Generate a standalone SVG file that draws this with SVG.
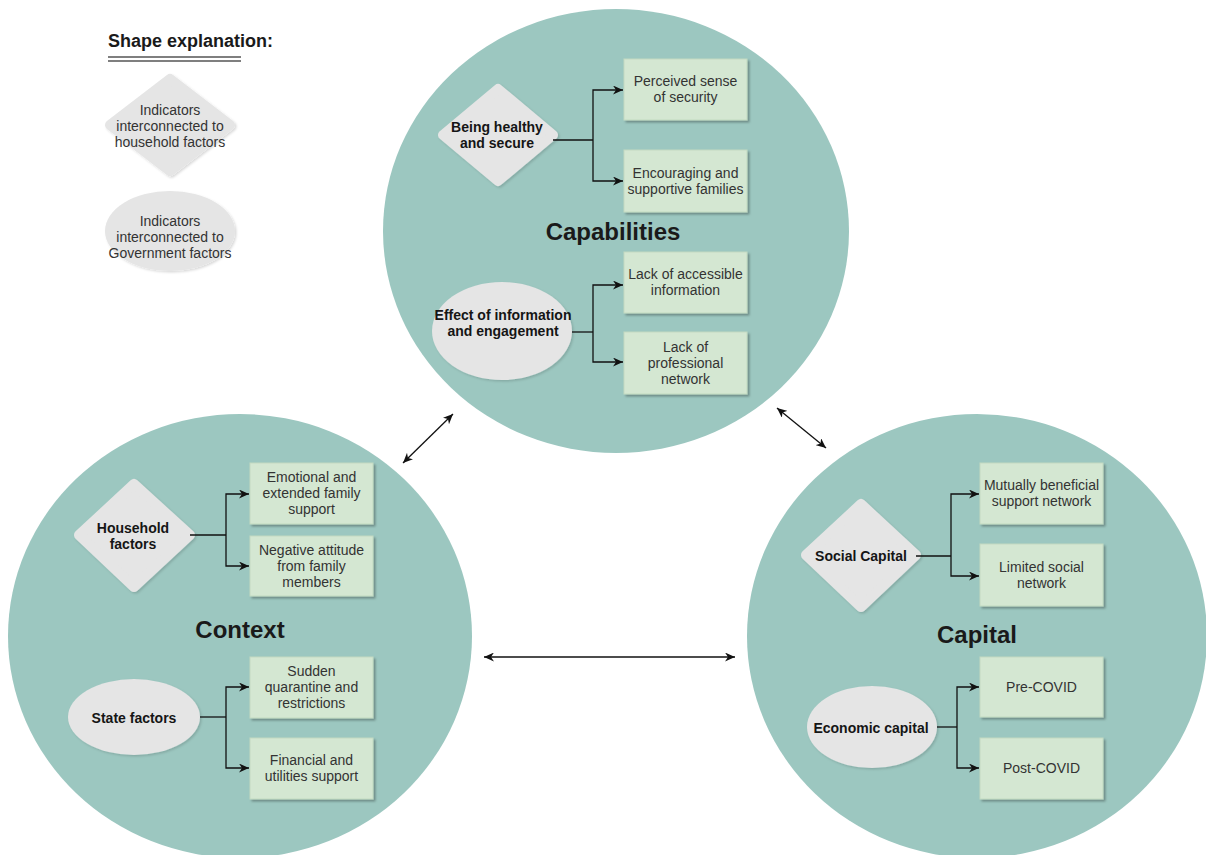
<svg xmlns="http://www.w3.org/2000/svg" width="1206" height="855" viewBox="0 0 1206 855">
<style>
.circle{fill:#9CC7C0}
.box{fill:#D4E7D2;stroke:#C3DAC1;stroke-width:1;filter:url(#sh)}
.gray{fill:#E5E5E5;filter:url(#sh2)}
.dia{fill:#E5E5E5;stroke:#E5E5E5;stroke-width:10;stroke-linejoin:round;filter:url(#sh2)}
.bt{font-family:"Liberation Sans",Arial,sans-serif;font-size:14px;fill:#333;text-anchor:middle}
.lb{font-family:"Liberation Sans",Arial,sans-serif;font-size:14px;font-weight:bold;fill:#151515;text-anchor:middle}
.ttl{font-family:"Liberation Sans",Arial,sans-serif;font-size:24px;font-weight:bold;fill:#1a1a1a;text-anchor:middle}
.con{fill:none;stroke:#111;stroke-width:1.3}
.arr{marker-end:url(#ah)}
.dbl{marker-start:url(#ah);marker-end:url(#ah)}
</style>
<defs>
<marker id="ah" markerUnits="userSpaceOnUse" markerWidth="10" markerHeight="9" refX="10" refY="4.5" orient="auto-start-reverse" viewBox="0 0 10 9">
<path d="M0,0 L10,4.5 L0,9 L3,4.5 z" fill="#111"/>
</marker>
<filter id="sh" x="-10%" y="-10%" width="130%" height="130%">
<feDropShadow dx="2" dy="2" stdDeviation="0.8" flood-color="#000" flood-opacity="0.3"/>
</filter>
<filter id="sh2" x="-10%" y="-10%" width="130%" height="130%">
<feDropShadow dx="1.5" dy="1.5" stdDeviation="1" flood-color="#000" flood-opacity="0.15"/>
</filter>
</defs>
<rect width="1206" height="855" fill="#fff"/>

<g id="legend">
<text x="108" y="47" style="font-family:'Liberation Sans',Arial,sans-serif;font-size:18px;font-weight:bold;fill:#1a1a1a">Shape explanation:</text>
<line x1="108" y1="57" x2="241" y2="57" stroke="#555" stroke-width="1.5"/>
<line x1="108" y1="61" x2="241" y2="61" stroke="#555" stroke-width="1.5"/>
<polygon class="dia" points="170,79 230,125 170,171 110,125"/>
<text class="bt" x="170" y="115">Indicators</text>
<text class="bt" x="170" y="131">interconnected to</text>
<text class="bt" x="170" y="147">household factors</text>
<ellipse class="gray" cx="170" cy="231" rx="65" ry="40"/>
<text class="bt" x="170" y="226">Indicators</text>
<text class="bt" x="170" y="242">interconnected to</text>
<text class="bt" x="170" y="258">Government factors</text>
</g>

<g id="capabilities">
<ellipse class="circle" cx="616" cy="231" rx="233" ry="222"/>
<text class="ttl" x="613" y="240">Capabilities</text>
</g>
<g id="context">
<ellipse class="circle" cx="240" cy="636" rx="232" ry="222"/>
<text class="ttl" x="240" y="638">Context</text>
</g>
<g id="capital">
<ellipse class="circle" cx="977" cy="636" rx="230" ry="222"/>
<text class="ttl" x="977" y="643">Capital</text>
</g>

<g id="being-healthy">
<polygon class="dia" points="498,89 553,135 498,181 443,135"/>
<text class="lb" x="497" y="132">Being healthy</text>
<text class="lb" x="497" y="148">and secure</text>
</g>
<g id="effect-info">
<ellipse class="gray" cx="502" cy="331" rx="70" ry="49"/>
<text class="lb" x="503" y="320">Effect of information</text>
<text class="lb" x="503" y="336">and engagement</text>
</g>
<g id="household">
<polygon class="dia" points="134,484 190,535 134,587 79,535"/>
<text class="lb" x="133" y="533">Household</text>
<text class="lb" x="133" y="549">factors</text>
</g>
<g id="state">
<ellipse class="gray" cx="134" cy="717" rx="66" ry="38"/>
<text class="lb" x="134" y="723">State factors</text>
</g>
<g id="social">
<polygon class="dia" points="861,504 916,555 861,607 806,555"/>
<text class="lb" x="861" y="561">Social Capital</text>
</g>
<g id="economic">
<ellipse class="gray" cx="872" cy="727" rx="65" ry="41"/>
<text class="lb" x="871" y="733">Economic capital</text>
</g>

<g id="perceived"><rect class="box" x="624" y="59" width="123" height="61"/>
<text class="bt" x="685.5" y="86">Perceived sense</text><text class="bt" x="685.5" y="102">of security</text></g>
<g id="encouraging"><rect class="box" x="624" y="150" width="123" height="62"/>
<text class="bt" x="685.5" y="178">Encouraging and</text><text class="bt" x="685.5" y="194">supportive families</text></g>
<g id="lack-info"><rect class="box" x="624" y="252" width="123" height="61"/>
<text class="bt" x="685.5" y="279">Lack of accessible</text><text class="bt" x="685.5" y="295">information</text></g>
<g id="lack-network"><rect class="box" x="624" y="332" width="123" height="62"/>
<text class="bt" x="685.5" y="352">Lack of</text><text class="bt" x="685.5" y="368">professional</text><text class="bt" x="685.5" y="384">network</text></g>

<g id="emotional"><rect class="box" x="250" y="463" width="123" height="61"/>
<text class="bt" x="311.5" y="482">Emotional and</text><text class="bt" x="311.5" y="498">extended family</text><text class="bt" x="311.5" y="514">support</text></g>
<g id="negative"><rect class="box" x="250" y="536" width="123" height="60"/>
<text class="bt" x="311.5" y="555">Negative attitude</text><text class="bt" x="311.5" y="571">from family</text><text class="bt" x="311.5" y="587">members</text></g>
<g id="sudden"><rect class="box" x="250" y="657" width="123" height="61"/>
<text class="bt" x="311.5" y="676">Sudden</text><text class="bt" x="311.5" y="692">quarantine and</text><text class="bt" x="311.5" y="708">restrictions</text></g>
<g id="financial"><rect class="box" x="250" y="738" width="123" height="61"/>
<text class="bt" x="311.5" y="765">Financial and</text><text class="bt" x="311.5" y="781">utilities support</text></g>

<g id="mutually"><rect class="box" x="980" y="463" width="123" height="61"/>
<text class="bt" x="1041.5" y="490">Mutually beneficial</text><text class="bt" x="1041.5" y="506">support network</text></g>
<g id="limited"><rect class="box" x="980" y="544" width="123" height="62"/>
<text class="bt" x="1041.5" y="572">Limited social</text><text class="bt" x="1041.5" y="588">network</text></g>
<g id="pre-covid"><rect class="box" x="980" y="657" width="123" height="60"/>
<text class="bt" x="1041.5" y="692">Pre-COVID</text></g>
<g id="post-covid"><rect class="box" x="980" y="738" width="123" height="61"/>
<text class="bt" x="1041.5" y="773">Post-COVID</text></g>

<g id="connectors">
<path class="con" d="M553 140 H593"/>
<path class="con arr" d="M593 140 V90 H623"/>
<path class="con arr" d="M593 140 V181 H623"/>
<path class="con" d="M572 332 H593"/>
<path class="con arr" d="M593 332 V285 H623"/>
<path class="con arr" d="M593 332 V362 H623"/>
<path class="con" d="M190 535 H226"/>
<path class="con arr" d="M226 535 V494 H249"/>
<path class="con arr" d="M226 535 V566 H249"/>
<path class="con" d="M200 717 H226"/>
<path class="con arr" d="M226 717 V687 H249"/>
<path class="con arr" d="M226 717 V768 H249"/>
<path class="con" d="M916 556 H951"/>
<path class="con arr" d="M951 556 V494 H979"/>
<path class="con arr" d="M951 556 V576 H979"/>
<path class="con" d="M937 727 H957"/>
<path class="con arr" d="M957 727 V687 H979"/>
<path class="con arr" d="M957 727 V768 H979"/>
<path class="con dbl" d="M403 463 L453 414"/>
<path class="con dbl" d="M777 408 L826 448"/>
<path class="con dbl" d="M484 657 L735 657"/>
</g>
</svg>
